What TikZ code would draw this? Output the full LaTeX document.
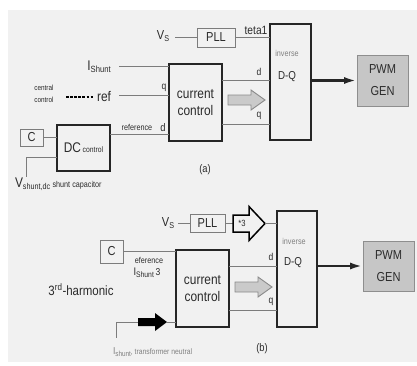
\documentclass[tikz,border=0pt]{standalone}
\usepackage{fontspec}
\setmainfont[FakeStretch=0.85]{Liberation Sans}
\usetikzlibrary{arrows.meta,calc}
\newcommand\fs[1]{\fontsize{#1}{#1}\selectfont}
\newcommand\lowsub[2][7]{\raisebox{-2.2pt}{\fs{#1}#2}}
\definecolor{bg}{HTML}{F1F1F1}
\definecolor{txt}{HTML}{2B2B2B}
\definecolor{linec}{HTML}{7C7C7C}
\definecolor{boxc}{HTML}{262626}
\definecolor{pwmfill}{HTML}{C6C6C6}
\definecolor{pwmdraw}{HTML}{8E8E8E}
\definecolor{garrfill}{HTML}{CACACA}
\definecolor{garrdraw}{HTML}{8A8A8A}
\begin{document}
\begin{tikzpicture}[x=1pt,y=-1pt,
  every node/.style={text=txt, inner sep=0pt, outer sep=0pt},
  thickbox/.style={draw=boxc, line width=1.6pt, anchor=north west, fill=bg},
  thinbox/.style={draw=linec, line width=1pt, anchor=north west, fill=bg},
  pwmbox/.style={draw=pwmdraw, fill=pwmfill, line width=1pt, anchor=north west, align=center, font=\fontsize{13}{22}\selectfont},
  ccbox/.style={thickbox, minimum width=53, minimum height=77, align=center, font=\fontsize{14}{17}\selectfont},
  conn/.style={draw=linec, line width=0.8pt},
  bigarrow/.style={draw=boxc, line width=2.8pt, -{Latex[length=13pt,width=7pt]}},
  garrow/.style={fill=garrfill, draw=garrdraw, line width=0.9pt},
  lab/.style={font=\fs{10}},
  inv/.style={font=\fs{8.5}, text=gray},
  dq/.style={font=\fs{11.5}}]
\useasboundingbox (0,0) rectangle (417,365);
\fill[white] (0,0) rectangle (417,365);
\fill[bg] (8,10) rectangle (417,362);

% ---------------- (a) ----------------
\node[thinbox, minimum width=38, minimum height=19, font=\fs{13}] (plla) at (197,28) {PLL};
\node[thickbox, minimum width=41, minimum height=116] (dqa) at (270,24) {};
\node[inv] at (287,53) {inverse};
\node[dq] at (287,77) {D-Q};
\node[ccbox] (cca) at (169,64) {current\\control};
\node[pwmbox, minimum width=51, minimum height=51] (pwma) at (357,55) {PWM\\GEN};
\node[thinbox, minimum width=23, minimum height=17, font=\fs{13}] (ca) at (20,129) {C};
\node[thickbox, minimum width=53, minimum height=46] (dca) at (57,125) {{\fs{14}DC}\,{\fs{8}control}};

\node[font=\fs{13}] (vsa) at (163,36) {V\lowsub[8.5]{S}};
\coordinate (vsaL) at (175,37.5);
\draw[conn] (vsaL) -- (vsaL -| plla.west);
\draw[conn] (plla.east) -- (plla.east -| dqa.west);
\node[font=\fs{12}, anchor=south] at (256,35) {teta1};

\node[font=\fs{14}] (isha) at (99,67) {I\lowsub[9]{Shunt}};
\coordinate (ishaL) at (119,66);
\draw[conn] (ishaL) -- (ishaL -| cca.west);

\node[align=center, font=\fontsize{7.5}{11.5}\selectfont] (cent) at (44,94) {central\\control};
\node[font=\fs{14}] (refa) at (104,96) {ref};
\coordinate (dsh1) at (66,97);
\draw[black, line width=1.6pt, dash pattern=on 2.5pt off 1.6pt] (dsh1) -- ([xshift=-4pt]refa.west |- dsh1);
\coordinate (refL) at (119,95);
\draw[conn] (refL) -- (refL -| cca.west);
\node[lab] at (164,88) {q};

\node[font=\fs{8.5}] at (137,127) {reference};
\node[font=\fs{11}] at (163,128) {d};
\coordinate (rdA) at ($(dca.north east)+(0,9)$);
\draw[conn] (rdA) -- (rdA -| cca.west);

\draw[conn] (ca.east) -- (ca.east -| dca.west);
\coordinate (vshS) at ($(dca.south west)+(0,-14)$);
\coordinate (vshE) at (26,177);
\draw[conn] (vshS) -| (vshE);
\node[anchor=west, font=\fs{14}] (vshtxt) at (15,184) {V\lowsub[8.5]{shunt,dc}\,{\fs{8.5}shunt capacitor}};

\coordinate (dA) at ($(cca.north east)+(0,16)$);
\draw[conn] (dA) -- (dA -| dqa.west);
\node[lab] at (259,72) {d};
\coordinate (qA) at ($(cca.north east)+(0,60)$);
\draw[conn] (qA) -- (qA -| dqa.west);
\node[lab] at (259,116) {q};
\draw[garrow] (228,95) -- (251,95) -- (251,90) -- (265,100) -- (251,110) -- (251,105) -- (228,105) -- cycle;

\draw[bigarrow] (dqa.east |- pwma.west) -- (pwma.west);
\node[font=\fs{11}] at (205,170) {(a)};

% ---------------- (b) ----------------
\node[thinbox, minimum width=35, minimum height=18, font=\fs{13}] (pllb) at (190,214.5) {PLL};
\node[thickbox, minimum width=40, minimum height=116] (dqb) at (277,211) {};
\node[inv] at (294,241) {inverse};
\node[dq] at (293,263) {D-Q};
\node[ccbox] (ccb) at (176,250) {current\\control};
\node[pwmbox, minimum width=51, minimum height=50] (pwmb) at (363,241) {PWM\\GEN};
\node[thinbox, minimum width=23, minimum height=23, font=\fs{13}] (cb) at (100,240) {C};

\node[font=\fs{13}] (vsb) at (168,223) {V\lowsub[8.5]{S}};
\coordinate (vsbL) at (178,223.5);
\draw[conn] (vsbL) -- (vsbL -| pllb.west);

\coordinate (m3L) at (233,223.5);
\coordinate (m3T) at (265,223.5);
\draw[conn] (pllb.east) -- (m3L);
\draw[black, line width=1.5pt, fill=bg, line join=miter] (233,215) -- (249,215) -- (249,206.5) -- (m3T) -- (249,240.5) -- (249,232) -- (233,232) -- cycle;
\node[font=\fs{9}] (m3) at (242,223.5) {*3};
\draw[conn] (m3T) -- (m3T -| dqb.west);

\draw[conn] (cb.east) -- (cb.east -| ccb.west);
\node[font=\fs{8.5}] at (149,260.5) {eference};
\node[font=\fs{11}] at (147,272.5) {I\lowsub[8]{Shunt}\,{\fs{10}3}};
\node[font=\fs{13.5}] at (81,290) {3\textsuperscript{rd}-harmonic};

\coordinate (baL) at (138,322);
\coordinate (baT) at (167,322);
\fill[black] (baL) -- (138,318) -- (155,318) -- (155,313) -- (baT) -- (155,331) -- (155,326) -- (138,326) -- cycle;
\draw[conn] (baT) -- (baT -| ccb.west);
\coordinate (lend) at (116,338);
\draw[conn] (baL) -| (lend);
\node[anchor=west, font=\fs{10}, text=gray] at (113,352) {I\lowsub[7.5]{shunt}{\fs{8}, transformer neutral}};

\coordinate (dB) at ($(ccb.north east)+(0,16)$);
\draw[conn] (dB) -- (dB -| dqb.west);
\node[lab] at (271,257) {d};
\coordinate (qB) at ($(ccb.north east)+(0,60)$);
\draw[conn] (qB) -- (qB -| dqb.west);
\node[lab] at (271,302) {q};
\draw[garrow] (235,282) -- (258,282) -- (258,277) -- (272,287) -- (258,297) -- (258,292) -- (235,292) -- cycle;

\draw[bigarrow] (dqb.east |- pwmb.west) -- (pwmb.west);
\node[font=\fs{11}] at (262,349) {(b)};
\end{tikzpicture}
\end{document}
